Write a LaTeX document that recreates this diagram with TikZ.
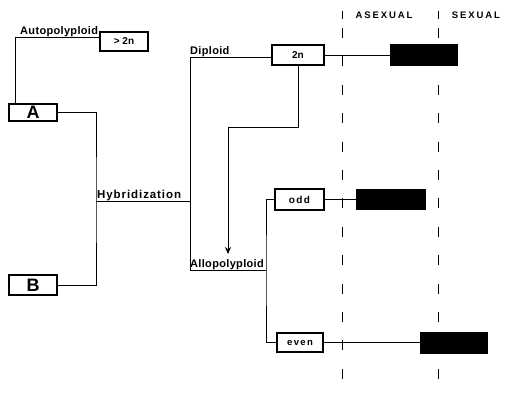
\documentclass[tikz,border=0pt]{standalone}
\usepackage{fontspec}
\setmainfont{Liberation Sans}
\newfontfamily\spacedfont[LetterSpace=14]{Liberation Sans}
\newfontfamily\headfont[LetterSpace=20]{Liberation Sans}
\newfontfamily\lblfont[LetterSpace=3]{Liberation Sans}
\newfontfamily\hybfont[LetterSpace=8]{Liberation Sans}
\usetikzlibrary{arrows.meta}
\begin{document}
\begin{tikzpicture}[x=1pt,y=-1pt,
  conn/.style={line width=0.8pt},
  box/.style={draw,line width=1.1pt,inner sep=0pt,minimum width=#1,font=\bfseries},
  blk/.style={fill=black,draw=black},
  lbl/.style={anchor=south west,inner sep=0pt,font=\lblfont\bfseries\fontsize{11}{11}\selectfont},
  sep/.style={line width=0.8pt,dash pattern=on 10pt off 18.4pt}]
\path[use as bounding box] (0,0) rectangle (512,394);
% boxes
\node[box=48pt,minimum height=17pt,font=\bfseries\fontsize{18}{18}\selectfont] (A) at (33,112.5) {A};
\node[box=48pt,minimum height=20pt,font=\bfseries\fontsize{18}{18}\selectfont] (B) at (33,285) {B};
\node[box=48pt,minimum height=19pt,font=\bfseries\fontsize{10}{10}\selectfont] (gt) at (124,41.5) {> 2n};
\node[box=52pt,minimum height=20pt,font=\bfseries\fontsize{10}{10}\selectfont] (twon) at (298,55) {2n};
\node[box=49pt,minimum height=21pt,font=\bfseries\spacedfont\fontsize{10}{10}\selectfont] (odd) at (299.5,199.5) {odd};
\node[box=46pt,minimum height=19pt,font=\bfseries\spacedfont\fontsize{9.5}{9.5}\selectfont] (even) at (300,342.5) {even};
\node[blk,minimum width=67pt,minimum height=21pt,inner sep=0pt] (k1) at (423.5,55) {};
\node[blk,minimum width=69pt,minimum height=20pt,inner sep=0pt] (k2) at (390.5,199.5) {};
\node[blk,minimum width=67pt,minimum height=21pt,inner sep=0pt] (k3) at (453.5,342.5) {};
% junction coordinates
\coordinate (ap) at (15,37);
\coordinate (hj) at (96,201);
\coordinate (dt) at (190,57);
\coordinate (db) at (190,270);
\coordinate (aj) at (266,270);
\coordinate (bend) at (228,127);
\coordinate (tip) at (228,254);
% labels
\node[lbl] (autol) at (20,37) {Autopolyploid};
\node[lbl] (dipl) at (190,57) {Diploid};
\node[lbl,font=\hybfont\bfseries\fontsize{11.5}{11.5}\selectfont] (hybl) at (97,201) {Hybridization};
\node[lbl] (allol) at (190,270) {Allopolyploid};
% connectors
\draw[conn] ([xshift=-18pt]A.north) |- (ap -| gt.west);
\draw[conn] (A.east) -| (hj) |- (B.east);
\draw[conn] (hj) -- (hj -| dt);
\draw[conn] (dt -| twon.west) -- (dt) -- (db) -- (aj);
\draw[conn] (odd.west) -| (aj) |- (even.west);
\draw[conn,-{Stealth[length=7pt,width=6pt]}] (twon.south) |- (bend) -- (tip);
\draw[conn] (twon.east) -- (k1.west);
\draw[conn] (odd.east) -- (k2.west);
\draw[conn] (even.east) -- (k3.west);
% separators
\draw[sep] (342,28) -- (342,394);
\draw[sep] (438,28) -- (438,394);
\draw[line width=0.8pt] (342,11) -- (342,19);
\draw[line width=0.8pt] (438,11) -- (438,19);
\node[font=\bfseries\headfont\fontsize{9.5}{9.5}\selectfont] (asex) at (384,15) {ASEXUAL};
\node[font=\bfseries\headfont\fontsize{9.5}{9.5}\selectfont] (sex) at (476,15) {SEXUAL};
\end{tikzpicture}
\end{document}
